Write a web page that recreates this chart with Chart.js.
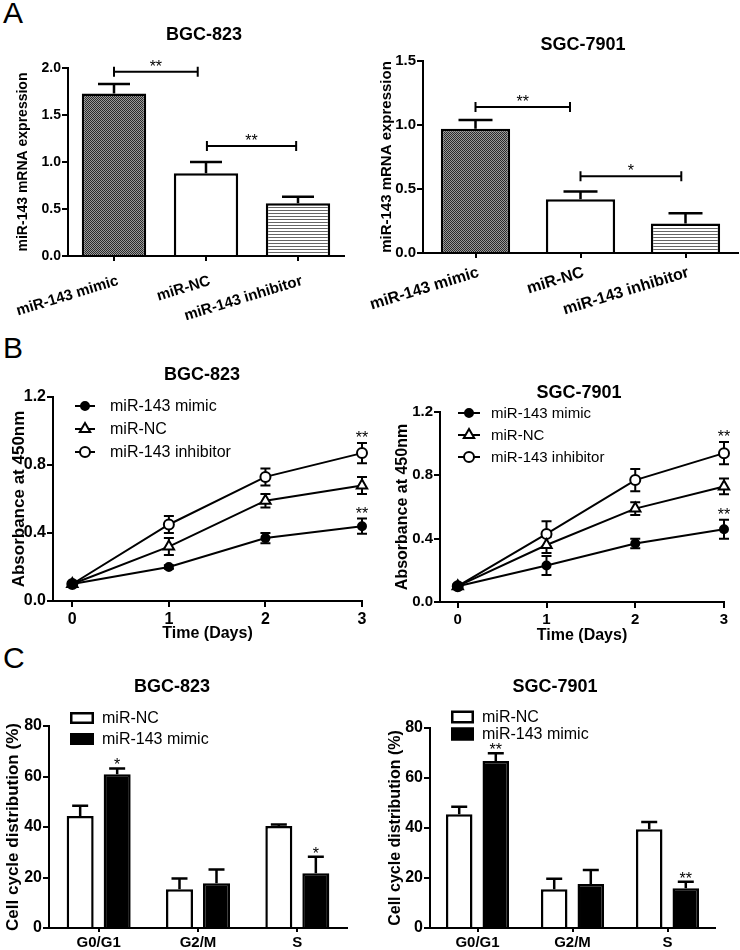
<!DOCTYPE html>
<html>
<head>
<meta charset="utf-8">
<script src="https://cdn.jsdelivr.net/npm/chart.js@4.4.0/dist/chart.umd.min.js"></script>
<style>
  body { margin: 0; background: #fff; width: 740px; height: 950px; position: relative; overflow: hidden; font-family: "Liberation Sans", Arial, sans-serif; }
  canvas { position: absolute; }
  .letter { position: absolute; left: 3px; font-size: 30px; line-height: 30px; color: #000; }
</style>
</head>
<body>
<div class="letter" style="top:-2px">A</div>
<div class="letter" style="top:333px">B</div>
<div class="letter" style="top:643px">C</div>

<canvas id="exprBgc" width="370" height="320" style="left:0;top:0"></canvas>
<canvas id="exprSgc" width="370" height="320" style="left:370px;top:0"></canvas>
<canvas id="growthBgc" width="370" height="330" style="left:0;top:320px"></canvas>
<canvas id="growthSgc" width="370" height="330" style="left:370px;top:320px"></canvas>
<canvas id="cycleBgc" width="370" height="310" style="left:0;top:640px"></canvas>
<canvas id="cycleSgc" width="370" height="310" style="left:370px;top:640px"></canvas>

<script>
// ---- data ----
const groups = ["miR-143 mimic", "miR-NC", "miR-143 inhibitor"];
const bgcExpr = [1.73, 0.88, 0.56];
const bgcExprErr = [0.10, 0.12, 0.07];
const sgcExpr = [0.97, 0.42, 0.23];
const sgcExprErr = [0.07, 0.06, 0.08];
const bgcExprTicks = [0, 0.5, 1.0, 1.5, 2.0];
const sgcExprTicks = [0, 0.5, 1.0, 1.5];

const days = [0, 1, 2, 3];
const absTicks = [0, 0.4, 0.8, 1.2];
const bgcMimic = [0.10, 0.20, 0.37, 0.44];
const bgcMimicErr = [0.01, 0.01, 0.03, 0.045];
const bgcNC = [0.10, 0.32, 0.59, 0.68];
const bgcNCErr = [0.01, 0.05, 0.04, 0.05];
const bgcInhib = [0.10, 0.45, 0.73, 0.87];
const bgcInhibErr = [0.01, 0.05, 0.05, 0.06];
const sgcMimic = [0.10, 0.23, 0.37, 0.46];
const sgcMimicErr = [0.01, 0.06, 0.03, 0.06];
const sgcNC = [0.10, 0.36, 0.59, 0.73];
const sgcNCErr = [0.01, 0.05, 0.04, 0.05];
const sgcInhib = [0.10, 0.43, 0.77, 0.94];
const sgcInhibErr = [0.01, 0.08, 0.07, 0.07];

const phases = ["G0/G1", "G2/M", "S"];
const cycleTicks = [0, 20, 40, 60, 80];
const bgcCycleNC = [44.4, 15.3, 40.4];
const bgcCycleNCErr = [4.0, 4.3, 0.6];
const bgcCycleMimic = [60.9, 17.7, 21.7];
const bgcCycleMimicErr = [2.3, 5.5, 6.5];
const sgcCycleNC = [45.5, 15.5, 39.5];
const sgcCycleNCErr = [3.0, 4.2, 2.9];
const sgcCycleMimic = [66.8, 17.6, 15.9];
const sgcCycleMimicErr = [3.1, 5.6, 2.6];

const FONT = '"Liberation Sans", Arial, Helvetica, sans-serif';
Chart.defaults.font.family = FONT;
Chart.defaults.color = "#000";

// ---- fill patterns for panel A ----
function makePattern(w, h, draw) {
    const c = document.createElement("canvas");
    c.width = w; c.height = h;
    draw(c.getContext("2d"));
    return c.getContext("2d").createPattern(c, "repeat");
}
const checker = makePattern(2, 2, g => {
    g.fillStyle = "#9a9a9a"; g.fillRect(0, 0, 2, 2);
    g.fillStyle = "#2a2a2a"; g.fillRect(0, 0, 1, 1); g.fillRect(1, 1, 1, 1);
});
const stripes = makePattern(4, 3, g => {
    g.fillStyle = "#fff"; g.fillRect(0, 0, 4, 3);
    g.fillStyle = "#666"; g.fillRect(0, 0, 4, 1);
});

function val(p) { return typeof p === "object" ? p.y : p; }

// ---- plugins ----
const errorBars = {
    id: "errorBars",
    draw(chart, opts) {
        const ctx = chart.ctx;
        const y = chart.scales.y;
        ctx.save();
        ctx.strokeStyle = "#000";
        ctx.lineWidth = opts.width || 2;
        chart.data.datasets.forEach((ds, i) => {
            if (!ds.errors) return;
            chart.getDatasetMeta(i).data.forEach((el, j) => {
                const v = val(ds.data[j]);
                const e = ds.errors[j];
                const top = y.getPixelForValue(v + e);
                const bot = opts.both ? y.getPixelForValue(v - e) : y.getPixelForValue(v);
                const c = opts.cap;
                ctx.beginPath();
                ctx.moveTo(el.x, top); ctx.lineTo(el.x, bot);
                ctx.moveTo(el.x - c, top); ctx.lineTo(el.x + c, top);
                if (opts.both) { ctx.moveTo(el.x - c, bot); ctx.lineTo(el.x + c, bot); }
                ctx.stroke();
            });
        });
        ctx.restore();
    },
    beforeDatasetsDraw(chart, args, opts) { if (opts.behind) this.draw(chart, opts); },
    afterDatasetsDraw(chart, args, opts) { if (!opts.behind) this.draw(chart, opts); }
};

const sig = {
    id: "sig",
    afterDatasetsDraw(chart, args, opts) {
        const ctx = chart.ctx;
        const x = chart.scales.x, y = chart.scales.y;
        ctx.save();
        ctx.strokeStyle = "#000";
        ctx.fillStyle = "#000";
        ctx.lineWidth = 2;
        ctx.font = (opts.size || 16) + "px " + FONT;
        ctx.textAlign = "center";
        ctx.textBaseline = "alphabetic";
        (opts.brackets || []).forEach(b => {
            const x1 = x.getPixelForValue(b.from), x2 = x.getPixelForValue(b.to);
            const py = y.getPixelForValue(b.y);
            ctx.beginPath();
            ctx.moveTo(x1, py); ctx.lineTo(x2, py);
            ctx.moveTo(x1, py - 5); ctx.lineTo(x1, py + 5);
            ctx.moveTo(x2, py - 5); ctx.lineTo(x2, py + 5);
            ctx.stroke();
            ctx.fillText(b.text, (x1 + x2) / 2, py);
        });
        (opts.stars || []).forEach(s => {
            const ds = chart.data.datasets[s.dataset];
            const el = chart.getDatasetMeta(s.dataset).data[s.index];
            const top = y.getPixelForValue(val(ds.data[s.index]) + ds.errors[s.index]);
            ctx.fillText(s.text, el.x, top + (opts.dy || 0));
        });
        ctx.restore();
    }
};

const panelText = {
    id: "panelText",
    afterDraw(chart, args, opts) {
        const ctx = chart.ctx;
        ctx.save();
        ctx.fillStyle = "#000";
        ctx.font = "bold 18px " + FONT;
        ctx.textAlign = "center";
        ctx.textBaseline = "middle";
        ctx.fillText(opts.title, opts.x, opts.y);
        const lg = opts.legend;
        if (lg) {
            ctx.font = lg.size + "px " + FONT;
            ctx.textAlign = "left";
            chart.data.datasets.forEach((ds, i) => {
                const ly = lg.y + i * lg.dy;
                ctx.strokeStyle = "#000";
                ctx.lineWidth = 2;
                if (lg.kind === "line") {
                    const cx = (lg.x1 + lg.x2) / 2;
                    ctx.beginPath(); ctx.moveTo(lg.x1, ly); ctx.lineTo(lg.x2, ly); ctx.stroke();
                    ctx.fillStyle = ds.pointBackgroundColor;
                    ctx.beginPath();
                    if (ds.pointStyle === "triangle") {
                        const r = ds.pointRadius;
                        ctx.moveTo(cx, ly - r);
                        ctx.lineTo(cx + r * 0.87, ly + r * 0.5);
                        ctx.lineTo(cx - r * 0.87, ly + r * 0.5);
                        ctx.closePath();
                    } else {
                        ctx.arc(cx, ly, ds.pointRadius, 0, Math.PI * 2);
                    }
                    ctx.fill(); ctx.stroke();
                } else {
                    ctx.fillStyle = ds.backgroundColor;
                    ctx.fillRect(lg.x1, ly - lg.h / 2, lg.x2 - lg.x1, lg.h);
                    ctx.lineWidth = 2.5;
                    ctx.strokeRect(lg.x1 + 1.25, ly - lg.h / 2 + 1.25, lg.x2 - lg.x1 - 2.5, lg.h - 2.5);
                }
                ctx.fillStyle = "#000";
                ctx.fillText(ds.label, lg.tx, ly + 1);
            });
        }
        ctx.restore();
    }
};

// ---- shared axis helpers ----
function yAxis(o) {
    return {
        min: 0, max: o.ticks[o.ticks.length - 1],
        afterBuildTicks: s => { s.ticks = o.ticks.map(v => ({ value: v })); },
        afterFit: s => { s.width = o.width; },
        ticks: { font: { weight: "bold", size: o.size }, padding: 1, callback: o.fmt },
        grid: { drawOnChartArea: false, tickLength: 6, color: "#000", lineWidth: 2 },
        border: { color: "#000", width: 2 },
        title: { display: true, text: o.title, font: { weight: "bold", size: o.titleSize }, padding: { top: o.titlePad, bottom: 0 } }
    };
}
function fixHeight(h) {
    // keep the plot area where it is: no extra side padding for long labels
    return s => { s.height = h; s.paddingLeft = 0; s.paddingRight = 0; };
}
const basePlugins = { legend: { display: false }, tooltip: { enabled: false } };

// ---- panel A ----
function exprChart(id, values, errors, ticks, brackets, o) {
    return new Chart(document.getElementById(id), {
        type: "bar",
        data: {
            labels: groups,
            datasets: [{
                data: values, errors: errors,
                backgroundColor: [checker, "#fff", stripes],
                borderColor: "#000", borderWidth: 2.5,
                barPercentage: o.barPct, categoryPercentage: 1
            }]
        },
        options: {
            responsive: false, animation: false,
            layout: { padding: { top: o.top, right: o.right, left: 0, bottom: 0 } },
            plugins: {
                ...basePlugins,
                errorBars: { cap: o.cap, width: 2.5 },
                sig: { brackets: brackets, size: 16 },
                panelText: { title: o.title, x: o.tx, y: o.ty }
            },
            scales: {
                x: {
                    grid: { drawOnChartArea: false, offset: false, tickLength: 5, color: "#000", lineWidth: 2 },
                    border: { color: "#000", width: 2 },
                    ticks: { font: { weight: "bold", size: o.lblSize }, minRotation: 17, maxRotation: 17, autoSkip: false,
                             padding: o.lblPad, labelOffset: o.lblShift },
                    afterFit: fixHeight(o.xh)
                },
                y: yAxis({ ticks: ticks, width: o.yw, size: o.size, fmt: v => v.toFixed(1),
                    title: "miR-143 mRNA expression", titleSize: o.size, titlePad: o.titlePad })
            }
        },
        plugins: [errorBars, sig, panelText]
    });
}

exprChart("exprBgc", bgcExpr, bgcExprErr, bgcExprTicks,
    [{ from: 0, to: 0.91, y: 1.96, text: "**" }, { from: 1.01, to: 1.98, y: 1.17, text: "**" }],
    { top: 68, right: 26, yw: 68, xh: 64, barPct: 0.7, cap: 16, size: 14, lblSize: 15, lblPad: 11, lblShift: 4, titlePad: 15,
      title: "BGC-823", tx: 204, ty: 35 });
exprChart("exprSgc", sgcExpr, sgcExprErr, sgcExprTicks,
    [{ from: 0, to: 0.9, y: 1.14, text: "**" }, { from: 1, to: 1.96, y: 0.60, text: "*" }],
    { top: 61, right: 2, yw: 53, xh: 67, barPct: 0.66, cap: 17, size: 15, lblSize: 16, lblPad: 5, lblShift: 3, titlePad: 8,
      title: "SGC-7901", tx: 213, ty: 45 });

// ---- panel B ----
function growthChart(id, series, errs, o) {
    const styles = [
        { label: "miR-143 mimic", pointStyle: "circle", pointRadius: 4, pointBackgroundColor: "#000" },
        { label: "miR-NC", pointStyle: "triangle", pointRadius: 6, pointBackgroundColor: "#fff" },
        { label: "miR-143 inhibitor", pointStyle: "circle", pointRadius: 5, pointBackgroundColor: "#fff" }
    ];
    return new Chart(document.getElementById(id), {
        type: "line",
        data: {
            datasets: series.map((s, k) => ({
                ...styles[k],
                data: days.map((d, i) => ({ x: d, y: s[i] })),
                errors: errs[k],
                borderColor: "#000", borderWidth: 2,
                pointBorderColor: "#000", pointBorderWidth: 2,
                clip: false
            }))
        },
        options: {
            responsive: false, animation: false,
            layout: { padding: { top: o.top, right: o.right, left: 0, bottom: 0 } },
            plugins: {
                ...basePlugins,
                errorBars: { cap: 5, both: true, behind: true, width: 2 },
                sig: { stars: [{ dataset: 2, index: 3, text: "**" }, { dataset: 0, index: 3, text: "**" }], size: 16, dy: 0 },
                panelText: { title: o.title, x: o.tx, y: o.ty, legend: o.legend }
            },
            scales: {
                x: {
                    type: "linear", min: -0.2, max: 3,
                    afterBuildTicks: s => { s.ticks = days.map(v => ({ value: v })); },
                    afterFit: fixHeight(o.xh),
                    grid: { drawOnChartArea: false, tickLength: 6, color: "#000", lineWidth: 2 },
                    border: { color: "#000", width: 2 },
                    ticks: { font: { weight: "bold", size: o.size }, padding: 3 },
                    title: { display: true, text: "Time (Days)", font: { weight: "bold", size: 16 }, padding: { top: 0, bottom: o.xtPad } }
                },
                y: yAxis({ ticks: absTicks, width: o.yw, size: o.size, fmt: v => v.toFixed(1),
                    title: "Absorbance at 450nm", titleSize: o.titleSize, titlePad: o.titlePad })
            }
        },
        plugins: [errorBars, sig, panelText]
    });
}

growthChart("growthBgc", [bgcMimic, bgcNC, bgcInhib], [bgcMimicErr, bgcNCErr, bgcInhibErr],
    { top: 77, right: 7, yw: 53, xh: 49, size: 16, titleSize: 17, titlePad: 9, xtPad: 7,
      title: "BGC-823", tx: 202, ty: 55,
      legend: { kind: "line", x1: 75, x2: 95, tx: 110, y: 86, dy: 23, size: 16 } });
growthChart("growthSgc", [sgcMimic, sgcNC, sgcInhib], [sgcMimicErr, sgcNCErr, sgcInhibErr],
    { top: 92, right: 16, yw: 70, xh: 48, size: 15, titleSize: 16, titlePad: 23, xtPad: 5,
      title: "SGC-7901", tx: 209, ty: 73,
      legend: { kind: "line", x1: 88, x2: 110, tx: 121, y: 93, dy: 22, size: 15 } });

// ---- panel C ----
function cycleChart(id, nc, ncErr, mimic, mimicErr, starText, o) {
    return new Chart(document.getElementById(id), {
        type: "bar",
        data: {
            labels: phases,
            datasets: [
                { label: "miR-NC", data: nc, errors: ncErr, backgroundColor: "#fff", borderColor: "#000", borderWidth: 2.5,
                  barPercentage: o.barPct, categoryPercentage: o.catPct },
                { label: "miR-143 mimic", data: mimic, errors: mimicErr, backgroundColor: "#000", borderColor: "#000", borderWidth: 2.5,
                  barPercentage: o.barPct, categoryPercentage: o.catPct }
            ]
        },
        options: {
            responsive: false, animation: false,
            layout: { padding: { top: o.top, right: o.right, left: 0, bottom: 0 } },
            plugins: {
                ...basePlugins,
                errorBars: { cap: 8, width: 2.5 },
                sig: { stars: [{ dataset: 1, index: 0, text: starText }, { dataset: 1, index: 2, text: starText }], size: 16, dy: 2 },
                panelText: { title: o.title, x: o.tx, y: o.ty, legend: o.legend }
            },
            scales: {
                x: {
                    grid: { drawOnChartArea: false, offset: false, tickLength: 4, color: "#000", lineWidth: 2 },
                    border: { color: "#000", width: 2 },
                    ticks: { font: { weight: "bold", size: 15 }, padding: 2, maxRotation: 0 },
                    afterFit: fixHeight(o.xh)
                },
                y: yAxis({ ticks: cycleTicks, width: o.yw, size: 16, fmt: v => v,
                    title: "Cell cycle distribution (%)", titleSize: o.titleSize, titlePad: o.titlePad })
            }
        },
        plugins: [errorBars, sig, panelText]
    });
}

cycleChart("cycleBgc", bgcCycleNC, bgcCycleNCErr, bgcCycleMimic, bgcCycleMimicErr, "*",
    { top: 86, right: 23, yw: 49, xh: 22, barPct: 0.73, catPct: 0.745, titleSize: 17, titlePad: 3,
      title: "BGC-823", tx: 172, ty: 47,
      legend: { kind: "box", x1: 70, x2: 94, h: 12, tx: 102, y: 78, dy: 21, size: 16 } });
cycleChart("cycleSgc", sgcCycleNC, sgcCycleNCErr, sgcCycleMimic, sgcCycleMimicErr, "**",
    { top: 88, right: 25, yw: 60, xh: 22, barPct: 0.726, catPct: 0.77, titleSize: 16, titlePad: 16,
      title: "SGC-7901", tx: 185, ty: 47,
      legend: { kind: "box", x1: 81, x2: 104, h: 13, tx: 112, y: 77, dy: 17, size: 16 } });
</script>
</body>
</html>
